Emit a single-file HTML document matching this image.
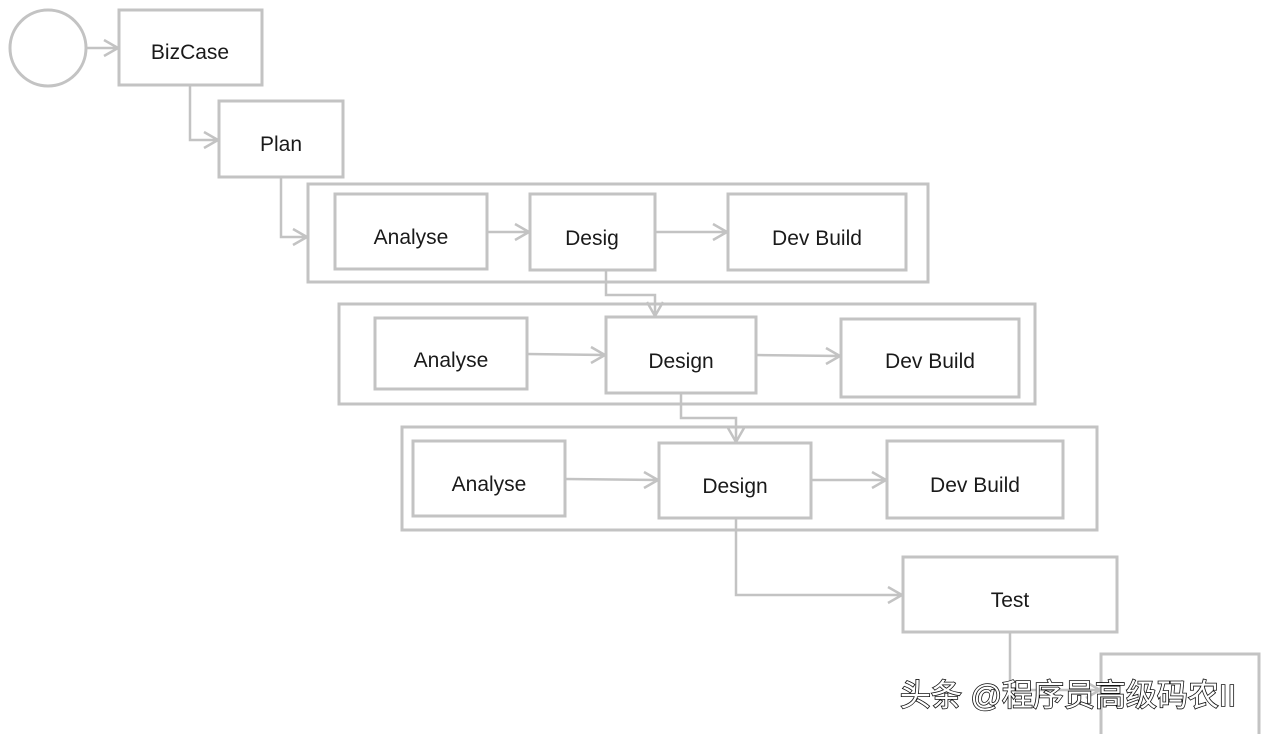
<!DOCTYPE html>
<html><head><meta charset="utf-8"><style>
html,body{margin:0;padding:0;background:#fff;}
svg{display:block}
text{font-family:"Liberation Sans","Noto Sans CJK SC",sans-serif;font-size:21px;fill:#1a1a1a;text-anchor:middle;}
</style></head><body>
<svg width="1264" height="734" viewBox="0 0 1264 734" xmlns="http://www.w3.org/2000/svg">
<g fill="none" stroke="#c3c3c3" stroke-width="3">
<circle cx="48" cy="48" r="38"/>
<rect x="119" y="10" width="143" height="75"/>
<rect x="219" y="101" width="124" height="76"/>
<rect x="308" y="184" width="620" height="98"/>
<rect x="335" y="194" width="152" height="75"/>
<rect x="530" y="194" width="125" height="76"/>
<rect x="728" y="194" width="178" height="76"/>
<rect x="339" y="304" width="696" height="100"/>
<rect x="375" y="318" width="152" height="71"/>
<rect x="606" y="317" width="150" height="76"/>
<rect x="841" y="319" width="178" height="78"/>
<rect x="402" y="427" width="695" height="103"/>
<rect x="413" y="441" width="152" height="75"/>
<rect x="659" y="443" width="152" height="75"/>
<rect x="887" y="441" width="176" height="77"/>
<rect x="903" y="557" width="214" height="75"/>
<rect x="1101" y="654" width="158" height="90"/>
</g>
<g fill="none" stroke="#c3c3c3" stroke-width="2.5">
<path d="M86 48H118M104 40L118 48L104 56"/>
<path d="M190 85V140H218M204 132L218 140L204 148"/>
<path d="M281 177V237H307M293 229L307 237L293 245"/>
<path d="M487 232H529M515 224L529 232L515 240"/>
<path d="M655 232H727M713 224L727 232L713 240"/>
<path d="M606 270V295H655V316M647 302L655 316L663 302"/>
<path d="M527 354L605 355M591 347L605 355L591 363"/>
<path d="M756 355L840 356M826 348L840 356L826 364"/>
<path d="M681 393V418H736V442M728 428L736 442L744 428"/>
<path d="M565 479L658 480M644 472L658 480L644 488"/>
<path d="M811 480H886M872 472L886 480L872 488"/>
<path d="M736 518V595H902M888 587L902 595L888 603"/>
<path d="M1010 632V690H1100M1086 682L1100 690L1086 698"/>
</g>
<text x="190" y="59">BizCase</text>
<text x="281" y="151">Plan</text>
<text x="411" y="244">Analyse</text>
<text x="592" y="245">Desig</text>
<text x="817" y="245">Dev Build</text>
<text x="451" y="367">Analyse</text>
<text x="681" y="368">Design</text>
<text x="930" y="368">Dev Build</text>
<text x="489" y="491">Analyse</text>
<text x="735" y="493">Design</text>
<text x="975" y="492">Dev Build</text>
<text x="1010" y="607">Test</text>
<text x="1068" y="706" style="font-size:31px;fill:#fff;stroke:#111;stroke-width:1.6;paint-order:stroke">头条 @程序员高级码农II</text>
</svg>
</body></html>
